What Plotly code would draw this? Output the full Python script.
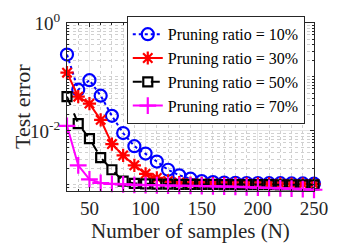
import plotly.graph_objects as go

samples = [30, 40, 50, 60, 70, 80, 90, 100, 110, 120, 130, 140, 150, 160, 170, 180, 190, 200, 210, 220, 230, 240, 250]

err_10 = [0.26, 0.058, 0.087, 0.045, 0.019, 0.0091, 0.0052, 0.0038, 0.0027, 0.0019, 0.0015, 0.0013, 0.00117,
          0.00112, 0.0011, 0.00109, 0.00108, 0.00108, 0.00107, 0.00107, 0.00106, 0.00106, 0.00105]
err_30 = [0.12, 0.043, 0.032, 0.016, 0.0057, 0.0035, 0.0023, 0.0016, 0.00134, 0.00118, 0.0011, 0.00107, 0.00106,
          0.00105, 0.00105, 0.00105, 0.00104, 0.00104, 0.00104, 0.00104, 0.00103, 0.00103, 0.00103]
err_50 = [0.043, 0.0136, 0.0072, 0.0032, 0.0019, 0.00117, 0.00106, 0.00104, 0.00103, 0.00103, 0.00102, 0.00102, 0.00102,
          0.00102, 0.00101, 0.00101, 0.00101, 0.00101, 0.00101, 0.001, 0.001, 0.001, 0.001]
err_70 = [0.0124, 0.0023, 0.00126, 0.00108, 0.00104, 0.00102, 0.001, 0.00099, 0.00098, 0.00097, 0.00096, 0.00096, 0.00095,
          0.00094, 0.00093, 0.00092, 0.0009, 0.00089, 0.00088, 0.00086, 0.00085, 0.00083, 0.00081]

labels = ["Pruning ratio = 10%", "Pruning ratio = 30%", "Pruning ratio = 50%", "Pruning ratio = 70%"]
x_ticks = [50, 100, 150, 200, 250]
y_ticks = [1e-2, 1e0]
y_ticktext = ["10<sup>-2</sup>", "10<sup>0</sup>"]

FONT = "Liberation Serif"

styles = [
    dict(color="#0000FF", dash="dot", symbol="circle-open", size=12),
    dict(color="#FF0000", dash="solid", symbol="asterisk-open", size=11),
    dict(color="#000000", dash="dash", symbol="square-open", size=9),
    dict(color="#FF00FF", dash="solid", symbol="cross-thin-open", size=12),
]

fig = go.Figure()
for ys, lab, st in zip([err_10, err_30, err_50, err_70], labels, styles):
    fig.add_trace(go.Scatter(
        x=samples, y=ys, name=lab, mode="lines+markers",
        line=dict(color=st["color"], dash=st["dash"], width=2),
        marker=dict(symbol=st["symbol"], size=st["size"], color=st["color"],
                    line=dict(color=st["color"], width=2.2)),
        cliponaxis=False,
    ))

minor_y = [v * m for v in (1e-4, 1e-3, 1e-2, 1e-1) for m in range(2, 10)] + [1e-3, 1e-1]

fig.update_layout(
    width=338, height=245,
    margin=dict(l=67, r=15, t=10, b=54),
    paper_bgcolor="white", plot_bgcolor="white",
    font=dict(family=FONT, size=18, color="#262626"),
    showlegend=True,
    legend=dict(x=0.242, y=1.04, xanchor="left", yanchor="top",
                bgcolor="white", bordercolor="#262626", borderwidth=1,
                font=dict(family=FONT, size=16, color="#000000"),
                itemwidth=30, tracegroupgap=0),
    annotations=[
        dict(text="Number of samples (N)", xref="paper", yref="paper", x=0.5, y=0,
             yshift=-40, xanchor="center", yanchor="middle", showarrow=False,
             font=dict(family=FONT, size=21, color="#262626")),
        dict(text="Test error", xref="paper", yref="paper", x=0, y=0.5, textangle=-90,
             xshift=-45, xanchor="center", yanchor="middle", showarrow=False,
             font=dict(family=FONT, size=22, color="#262626")),
    ],
)
fig.update_xaxes(
    range=[30, 250], tickvals=x_ticks, ticks="inside", ticklen=4, tickcolor="#262626",
    showline=True, linecolor="#262626", linewidth=1, mirror="ticks",
    showgrid=True, gridcolor="#e6e6e6", gridwidth=1,
    minor=dict(dtick=10, tick0=0, showgrid=True, gridcolor="#d0d0d0", griddash="dot", gridwidth=1,
               ticks="inside", ticklen=2, tickcolor="#262626"),
    tickfont=dict(size=19, family=FONT, color="#262626"), zeroline=False,
    ticklabeloverflow="allow",
)
fig.update_yaxes(
    type="log", range=[-3.115, 0.0005], tickvals=y_ticks, ticktext=y_ticktext,
    ticks="inside", ticklen=4, tickcolor="#262626",
    showline=True, linecolor="#262626", linewidth=1, mirror="ticks",
    showgrid=True, gridcolor="#e6e6e6", gridwidth=1,
    minor=dict(tickmode="array", tickvals=minor_y, showgrid=True, gridcolor="#d0d0d0", griddash="dot",
               gridwidth=1, ticks="inside", ticklen=2, tickcolor="#262626"),
    tickfont=dict(size=19, family=FONT, color="#262626"), zeroline=False,
    ticklabeloverflow="allow", ticklabelstandoff=2,
)

fig.write_html("out.html", config={"displayModeBar": False},
               post_script="document.body.style.margin='0px';document.body.style.padding='0px';")
